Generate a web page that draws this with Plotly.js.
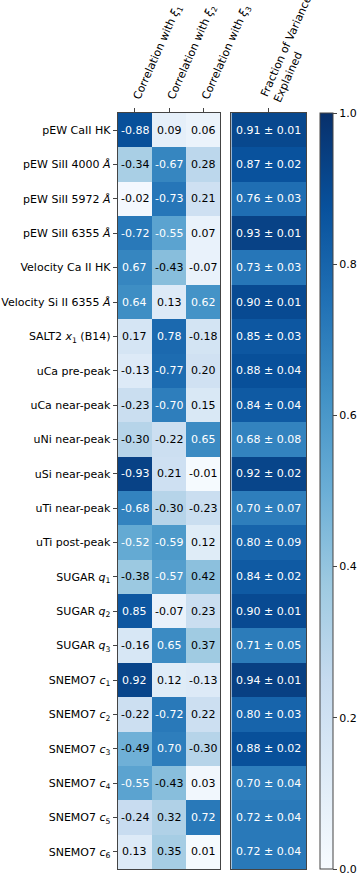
<!DOCTYPE html>
<html>
<head>
<meta charset="utf-8">
<script src="https://cdn.plot.ly/plotly-3.0.1.min.js"></script>
<style>
  html, body { margin: 0; padding: 0; background: #fff; }
  #chart { width: 357px; height: 874px; }
</style>
</head>
<body>
<div id="chart"></div>
<script>
    // Row labels (top to bottom)
    var rowLabels = [
        'pEW CaII HK',
        'pEW SiII 4000 <i>Å</i>',
        'pEW SiII 5972 <i>Å</i>',
        'pEW SiII 6355 <i>Å</i>',
        'Velocity Ca II HK',
        'Velocity Si II 6355 <i>Å</i>',
        'SALT2 <i>x</i><sub>1</sub> (B14)',
        'uCa pre-peak',
        'uCa near-peak',
        'uNi near-peak',
        'uSi near-peak',
        'uTi near-peak',
        'uTi post-peak',
        'SUGAR <i>q</i><sub>1</sub>',
        'SUGAR <i>q</i><sub>2</sub>',
        'SUGAR <i>q</i><sub>3</sub>',
        'SNEMO7 <i>c</i><sub>1</sub>',
        'SNEMO7 <i>c</i><sub>2</sub>',
        'SNEMO7 <i>c</i><sub>3</sub>',
        'SNEMO7 <i>c</i><sub>4</sub>',
        'SNEMO7 <i>c</i><sub>5</sub>',
        'SNEMO7 <i>c</i><sub>6</sub>'
    ];
    var colLabels = [
        'Correlation with <i>ξ</i><sub>1</sub>',
        'Correlation with <i>ξ</i><sub>2</sub>',
        'Correlation with <i>ξ</i><sub>3</sub>'
    ];
    var fracLabel = 'Fraction of Variance<br>Explained';

    var corrXi1 = [-0.88, -0.34, -0.02, -0.72, 0.67, 0.64, 0.17, -0.13, -0.23, -0.30, -0.93,
                   -0.68, -0.52, -0.38, 0.85, -0.16, 0.92, -0.22, -0.49, -0.55, -0.24, 0.13];
    var corrXi2 = [0.09, -0.67, -0.73, -0.55, -0.43, 0.13, 0.78, -0.77, -0.70, -0.22, 0.21,
                   -0.30, -0.59, -0.57, -0.07, 0.65, 0.12, -0.72, 0.70, -0.43, 0.32, 0.35];
    var corrXi3 = [0.06, 0.28, 0.21, 0.07, -0.07, 0.62, -0.18, 0.20, 0.15, 0.65, -0.01,
                   -0.23, 0.12, 0.42, 0.23, 0.37, -0.13, 0.22, -0.30, 0.03, 0.72, 0.01];
    var fracVar = [0.91, 0.87, 0.76, 0.93, 0.73, 0.90, 0.85, 0.88, 0.84, 0.68, 0.92,
                   0.70, 0.80, 0.84, 0.90, 0.71, 0.94, 0.80, 0.88, 0.70, 0.72, 0.72];
    var fracErr = [0.01, 0.02, 0.03, 0.01, 0.03, 0.01, 0.03, 0.04, 0.04, 0.08, 0.02,
                   0.07, 0.09, 0.02, 0.01, 0.05, 0.01, 0.03, 0.02, 0.04, 0.04, 0.04];

    // matplotlib "Blues"
    var blues = [
        [0.000, '#f7fbff'], [0.125, '#deebf7'], [0.250, '#c6dbef'],
        [0.375, '#9ecae1'], [0.500, '#6baed6'], [0.625, '#4292c6'],
        [0.750, '#2171b5'], [0.875, '#08519c'], [1.000, '#08306b']
    ];

    var font = 'DejaVu Sans, Verdana, sans-serif';
    var rowIdx = rowLabels.map((_, i) => i);
    var corrCols = [corrXi1, corrXi2, corrXi3];

    // |correlation| drives the colour
    var zCorr = rowIdx.map(i => corrCols.map(c => Math.abs(c[i])));
    var zFrac = rowIdx.map(i => [fracVar[i]]);

    var corrTrace = {
        type: 'heatmap',
        x: [0, 1, 2],
        y: rowIdx,
        z: zCorr,
        zmin: 0, zmax: 1,
        colorscale: blues,
        showscale: false,
        hoverinfo: 'skip',
        xaxis: 'x', yaxis: 'y'
    };

    var fracTrace = {
        type: 'heatmap',
        x: [0],
        y: rowIdx,
        z: zFrac,
        zmin: 0, zmax: 1,
        colorscale: blues,
        showscale: true,
        hoverinfo: 'skip',
        colorbar: {
            x: 320 / 357, xanchor: 'left', xref: 'paper',
            y: 0.5, yanchor: 'middle', len: 1, lenmode: 'fraction',
            thickness: 13, xpad: 0, ypad: 0,
            outlinewidth: 1, outlinecolor: '#444',
            ticks: 'outside', ticklen: 4, tickcolor: '#444',
            tickvals: [0, 0.2, 0.4, 0.6, 0.8, 1.0],
            tickformat: '.1f',
            ticklabeloverflow: 'allow',
            tickfont: { family: font, size: 11, color: '#000' }
        },
        xaxis: 'x2', yaxis: 'y2'
    };

    // cell labels
    var annotations = [];
    rowIdx.forEach(function (i) {
        corrCols.forEach(function (c, j) {
            annotations.push({
                x: j, y: i, xref: 'x', yref: 'y',
                text: c[i].toFixed(2),
                showarrow: false,
                font: { family: font, size: 11, color: Math.abs(c[i]) > 0.5 ? '#fff' : '#000' }
            });
        });
        annotations.push({
            x: 0, y: i, xref: 'x2', yref: 'y2',
            text: fracVar[i].toFixed(2) + ' ± ' + fracErr[i].toFixed(2),
            showarrow: false,
            font: { family: font, size: 11, color: fracVar[i] > 0.5 ? '#fff' : '#000' }
        });
    });

    var axisLine = { showline: true, linecolor: '#444', linewidth: 1, mirror: true, showgrid: false, zeroline: false };

    var layout = {
        width: 357,
        height: 874,
        margin: { l: 0, r: 0, t: 113, b: 5 },
        paper_bgcolor: '#fff',
        plot_bgcolor: '#fff',
        font: { family: font, size: 11, color: '#000' },
        showlegend: false,
        xaxis: Object.assign({}, axisLine, {
            domain: [118 / 357, 221 / 357],
            anchor: 'y',
            side: 'top',
            range: [-0.5, 2.5],
            tickmode: 'array',
            tickvals: [0, 1, 2],
            ticktext: colLabels,
            tickangle: -66,
            ticks: 'outside', ticklen: 4, tickcolor: '#444',
            automargin: false
        }),
        yaxis: Object.assign({}, axisLine, {
            domain: [0, 1],
            anchor: 'x',
            range: [21.5, -0.5],
            tickmode: 'array',
            tickvals: rowIdx,
            ticktext: rowLabels,
            ticks: 'outside', ticklen: 4, tickcolor: '#444',
            automargin: false
        }),
        xaxis2: Object.assign({}, axisLine, {
            domain: [232 / 357, 307 / 357],
            anchor: 'y2',
            side: 'top',
            range: [-0.5, 0.5],
            tickmode: 'array',
            tickvals: [0],
            ticktext: [fracLabel],
            tickangle: -66,
            ticks: 'outside', ticklen: 4, tickcolor: '#444',
            automargin: false
        }),
        yaxis2: Object.assign({}, axisLine, {
            domain: [0, 1],
            anchor: 'x2',
            matches: 'y',
            range: [21.5, -0.5],
            showticklabels: false,
            ticks: '',
            automargin: false
        }),
        annotations: annotations
    };

    Plotly.newPlot('chart', [corrTrace, fracTrace], layout, { displayModeBar: false, staticPlot: true });
</script>
</body>
</html>
